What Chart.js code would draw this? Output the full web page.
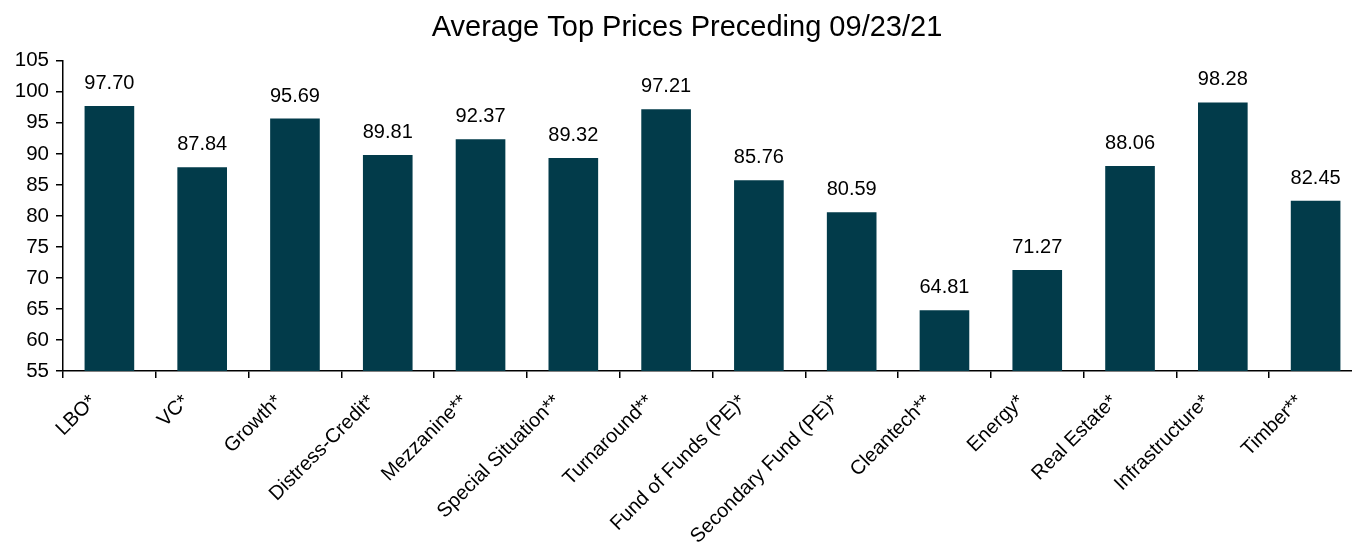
<!DOCTYPE html>
<html>
<head>
<meta charset="utf-8">
<script src="https://cdn.jsdelivr.net/npm/chart.js@4/dist/chart.umd.min.js"></script>
<style>
  html, body { margin: 0; padding: 0; background: #fff; overflow: hidden; }
  #wrap { position: relative; width: 1366px; height: 546px; }
</style>
</head>
<body>
<div id="wrap"><canvas id="c"></canvas></div>
<script>
const chartTitle = "Average Top Prices Preceding 09/23/21";
const categories = ["LBO*", "VC*", "Growth*", "Distress-Credit*", "Mezzanine**", "Special Situation**", "Turnaround**", "Fund of Funds (PE)*", "Secondary Fund (PE)*", "Cleantech**", "Energy*", "Real Estate*", "Infrastructure*", "Timber**"];
const values = [97.70, 87.84, 95.69, 89.81, 92.37, 89.32, 97.21, 85.76, 80.59, 64.81, 71.27, 88.06, 98.28, 82.45];
const yMin = 55, yMax = 105, yStep = 5;

const FONT = "'Liberation Sans', Arial, sans-serif";

const valueLabels = {
  id: 'valueLabels',
  afterDatasetsDraw(chart) {
    const ctx = chart.ctx;
    const meta = chart.getDatasetMeta(0);
    ctx.save();
    ctx.font = "20px " + FONT;
    ctx.fillStyle = "#000";
    ctx.textAlign = "center";
    ctx.textBaseline = "alphabetic";
    meta.data.forEach((bar, i) => {
      ctx.fillText(values[i].toFixed(2), bar.x, bar.y - 17);
    });
    ctx.restore();
  }
};

new Chart(document.getElementById('c'), {
  type: 'bar',
  data: {
    labels: categories,
    datasets: [{
      data: values,
      backgroundColor: '#023B4A',
      categoryPercentage: 1.0,
      barPercentage: 0.535
    }]
  },
  options: {
    responsive: true,
    maintainAspectRatio: false,
    animation: false,
    layout: { padding: { left: 12, right: 4, top: 11, bottom: 0 } },
    plugins: {
      legend: { display: false },
      tooltip: { enabled: false },
      title: {
        display: true,
        text: chartTitle,
        color: '#000',
        font: { family: FONT, size: 29, weight: 'normal' },
        padding: { top: 0, bottom: 15 }
      }
    },
    scales: {
      x: {
        offset: true,
        border: { display: true, color: '#000', width: 1.5 },
        grid: { display: true, offset: true, drawOnChartArea: false, drawTicks: true, tickLength: 7, color: '#000', lineWidth: 1.5 },
        ticks: {
          color: '#000',
          font: { family: FONT, size: 20 },
          minRotation: 45, maxRotation: 45,
          autoSkip: false,
          padding: 12,
          labelOffset: -16
        },
        afterFit(scale) { scale.height = 175; }
      },
      y: {
        min: yMin, max: yMax,
        border: { display: true, color: '#000', width: 1.5 },
        grid: { display: true, drawOnChartArea: false, drawTicks: true, tickLength: 7, color: '#000', lineWidth: 1.5 },
        ticks: {
          stepSize: yStep,
          color: '#000',
          font: { family: FONT, size: 20.5 },
          padding: 7
        },
        afterFit(scale) { scale.width = 51; }
      }
    }
  },
  plugins: [valueLabels]
});
</script>
</body>
</html>
